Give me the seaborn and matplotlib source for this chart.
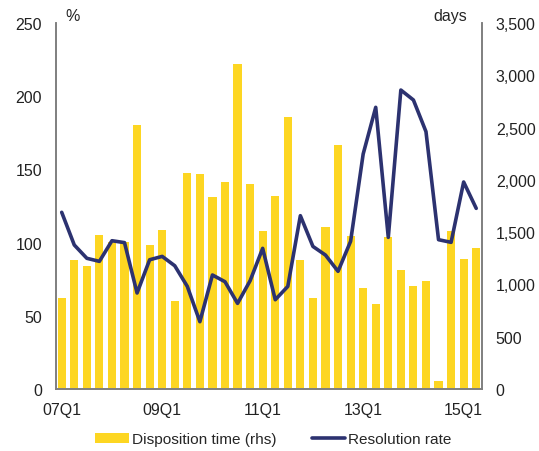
import numpy as np
import pandas as pd
import matplotlib
matplotlib.use("Agg")
import matplotlib.pyplot as plt
import seaborn as sns
from matplotlib.patches import Patch
from matplotlib.lines import Line2D
from matplotlib.ticker import FuncFormatter

#Data
quarters = [f"{y:02d}Q{q}" for y in range(7, 16) for q in range(1, 5)][:34]
disposition_days = [873, 1234, 1180, 1470, 1403, 1403, 2525, 1377, 1521, 842,
                    2066, 2053, 1836, 1980, 3105, 1957, 1511, 1843, 2601, 1234,
                    873, 1549, 2337, 1466, 966, 813, 1450, 1135, 985, 1036,
                    80, 1511, 1243, 1345]
resolution_rate = [120.7, 98.4, 89.3, 87.2, 101.3, 100.0, 65.6, 88.3, 90.6, 84.2,
                   70.1, 46.0, 77.9, 73.3, 58.5, 74.0, 96.1, 61.0, 70.1, 118.4,
                   97.4, 91.5, 80.4, 100.9, 160.5, 192.4, 103.6, 204.2, 197.4, 175.8,
                   102.0, 100.2, 141.4, 123.4]
tick_labels = ["07Q1", "09Q1", "11Q1", "13Q1", "15Q1"]

df = pd.DataFrame({"quarter": quarters, "days": disposition_days,
                   "rate": resolution_rate, "pos": np.arange(len(quarters))})

yellow = "#FDD622"
navy = "#2C3270"
grey = "#7F7F7F"

sns.set_style("white")
plt.rcParams["font.family"] = ["Liberation Sans", "DejaVu Sans"]

fig = plt.figure(figsize=(5.39, 4.52), dpi=100)
ax = fig.add_axes([0.104, 0.137, 0.790, 0.810])  # left axis: %
ax2 = ax.twinx()  # right axis: days

#Bars on the rhs axis, line on the lhs axis drawn on top
sns.barplot(data=df, x="quarter", y="days", ax=ax2, color=yellow, saturation=1,
            width=0.65, edgecolor="none")
sns.lineplot(data=df, x="pos", y="rate", ax=ax, color=navy, linewidth=2.6)
ax.set_zorder(ax2.get_zorder() + 1)
ax.patch.set_visible(False)

ax.set_xlim(-0.45, len(quarters) - 0.55)
ax.set_ylim(0, 250)
ax2.set_ylim(0, 3500)
ax.set_yticks(range(0, 251, 50))
ax2.set_yticks(range(0, 3501, 500))
ax2.yaxis.set_major_formatter(FuncFormatter(lambda v, p: f"{int(v):,}"))
ax.set_xticks([0, 8, 16, 24, 32])
ax.set_xticklabels(tick_labels)

for a in (ax, ax2):
    a.set_xlabel("")
    a.set_ylabel("")
    a.tick_params(length=0, labelsize=11.5, colors="#222222", pad=9)
    a.spines["top"].set_visible(False)
    for s in ("left", "right", "bottom"):
        a.spines[s].set_color(grey)
        a.spines[s].set_linewidth(1.2)
ax.tick_params(axis="y", pad=10)
ax2.tick_params(axis="y", pad=10)

ax.text(0.022, 1.0, "%", transform=ax.transAxes, fontsize=11.5, va="bottom", ha="left")
ax.text(0.965, 1.0, "days", transform=ax.transAxes, fontsize=11.5, va="bottom", ha="right")

#Legend
handles = [Patch(facecolor=yellow, edgecolor="none"),
           Line2D([0], [0], color=navy, linewidth=2.6)]
fig.legend(handles, ["Disposition time (rhs)", "Resolution rate"], loc="center",
           bbox_to_anchor=(0.507, 0.026), ncol=2, frameon=False, fontsize=11.1,
           borderpad=0.0, handlelength=2.2, handleheight=0.6, handletextpad=0.15,
           columnspacing=2.3)

fig.savefig("out.png", dpi=100)
